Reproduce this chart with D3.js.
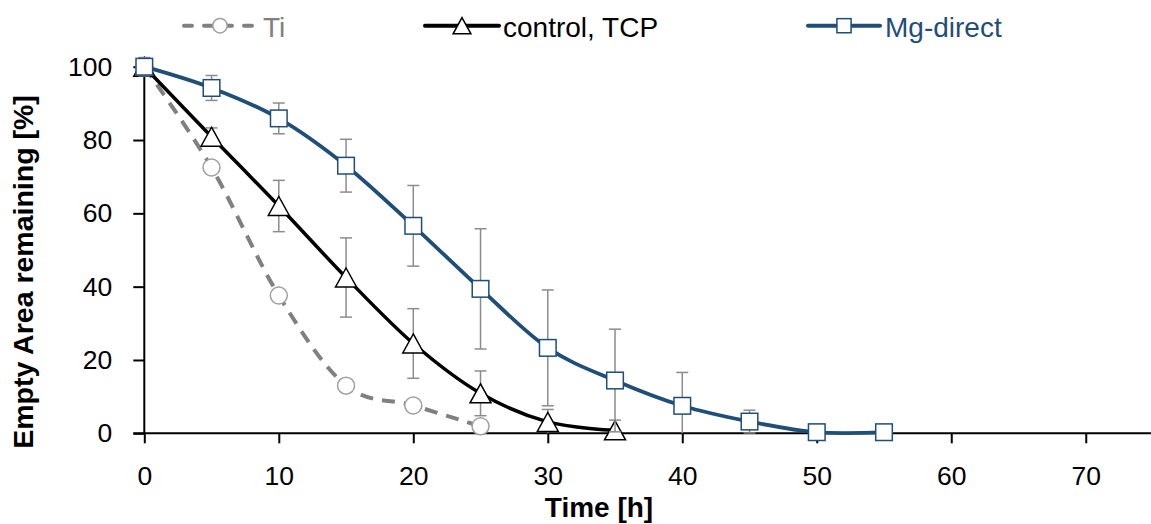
<!DOCTYPE html>
<html><head><meta charset="utf-8">
<script src="https://cdn.jsdelivr.net/npm/d3@7"></script>
<style>body{margin:0;background:#fff}svg{display:block}</style>
</head><body>
<svg id="c" width="1151" height="524"></svg>
<script>
// ---- data ----
const tiTime = [0, 5, 10, 15, 20, 25];
const tiValues = [100, 72.5, 37.6, 13, 7.6, 1.9];

const ctrlTime = [0, 5, 10, 15, 20, 25, 30, 35];
const ctrlValues = [100, 80.9, 62, 42.5, 24.5, 10.9, 3.1, 0.8];
const ctrlErr = [0, 2.4, 7, 10.8, 9.5, 6.1, 3.4, 2.8];

const mgTime = [0, 5, 10, 15, 20, 25, 30, 35, 40, 45, 50, 55];
const mgValues = [100, 94.2, 85.9, 73, 56.6, 39.4, 23.3, 14.4, 7.5, 3.2, 0.3, 0.3];
const mgErr = [2.5, 3.4, 4.2, 7.2, 11, 16.4, 15.8, 14, 9.1, 3.1, 0, 0];

const xTicks = [0, 10, 20, 30, 40, 50, 60, 70];
const yTicks = [0, 20, 40, 60, 80, 100];
const legendLabels = ["Ti", "control, TCP", "Mg-direct"];

// ---- layout ----
const svg = d3.select("#c");
const x = d3.scaleLinear().domain([0, 75]).range([144.3, 1153]);
const y = d3.scaleLinear().domain([0, 100]).range([433.3, 66.7]);

const BLUE = "#1f4e79", GRAY = "#808080", ERR = "#8c8c8c";
const FONT = "'Liberation Sans', Arial, sans-serif";

// axes
const yAxis = svg.append("g").attr("transform", `translate(${x(0)},0)`)
  .call(d3.axisLeft(y).tickValues(yTicks).tickSize(11).tickPadding(21));
const xAxis = svg.append("g").attr("transform", `translate(0,${y(0)})`)
  .call(d3.axisBottom(x).tickValues(xTicks).tickSize(10).tickPadding(23));
[yAxis, xAxis].forEach(g => {
  g.select(".domain").attr("stroke", "#000").attr("stroke-width", 2);
  g.selectAll(".tick line").attr("stroke", "#000").attr("stroke-width", 2);
  g.selectAll(".tick text").attr("fill", "#000").style("font-family", FONT).style("font-size", "26.5px");
});
xAxis.select(".domain").attr("d", `M${x(0)-11},0H1151`);
yAxis.select(".domain").attr("d", `M0,${y(0)}V${y(100)}`);

// titles
svg.append("text").attr("transform", `translate(33,272) rotate(-90)`)
  .attr("text-anchor", "middle").style("font-family", FONT).style("font-weight", "bold")
  .style("font-size", "28.5px").text("Empty Area remaining [%]");
svg.append("text").attr("x", 599).attr("y", 516.5)
  .attr("text-anchor", "middle").style("font-family", FONT).style("font-weight", "bold")
  .style("font-size", "28px").text("Time [h]");

const line = d3.line().x(d => x(d[0])).y(d => y(d[1])).curve(d3.curveCardinal.tension(0));

function series(times, vals, errs, color, width, dash, marker, markerStroke) {
  const pts = times.map((t, i) => [t, vals[i]]);
  svg.append("path").attr("d", line(pts)).attr("fill", "none")
    .attr("stroke", color).attr("stroke-width", width)
    .attr("stroke-dasharray", dash || null);
  if (errs) {
    const eg = svg.append("g").attr("stroke", ERR).attr("stroke-width", 1.5);
    times.forEach((t, i) => {
      if (!errs[i]) return;
      const xx = x(t), y1 = y(vals[i] + errs[i]), y0 = y(Math.max(0, vals[i] - errs[i]));
      eg.append("line").attr("x1", xx).attr("x2", xx).attr("y1", y1).attr("y2", y0);
      eg.append("line").attr("x1", xx - 6).attr("x2", xx + 6).attr("y1", y1).attr("y2", y1);
      if (vals[i] - errs[i] > 0)
        eg.append("line").attr("x1", xx - 6).attr("x2", xx + 6).attr("y1", y0).attr("y2", y0);
    });
  }
  pts.forEach(p => drawMarker(marker, x(p[0]), y(p[1]), markerStroke));
}

function drawMarker(kind, cx, cy, stroke, scale = 1) {
  if (kind === "circle") {
    svg.append("circle").attr("cx", cx).attr("cy", cy).attr("r", 8.5 * scale)
      .attr("fill", "#fff").attr("stroke", stroke).attr("stroke-width", 1.5);
  } else if (kind === "tri") {
    const w = 10.5 * scale, h = 9.5 * scale;
    svg.append("path").attr("d", `M${cx},${cy - h}L${cx + w},${cy + h}L${cx - w},${cy + h}Z`)
      .attr("fill", "#fff").attr("stroke", stroke).attr("stroke-width", 1.5);
  } else {
    const s = 8.3 * scale;
    svg.append("rect").attr("x", cx - s).attr("y", cy - s).attr("width", 2 * s).attr("height", 2 * s)
      .attr("fill", "#fff").attr("stroke", stroke).attr("stroke-width", 1.5);
  }
}

series(tiTime, tiValues, null, GRAY, 4, "13,9", "circle", "#a0a0a0");
series(ctrlTime, ctrlValues, ctrlErr, "#000", 3.5, null, "tri", "#000");
series(mgTime, mgValues, mgErr, BLUE, 3.8, null, "square", BLUE);

// legend
const legend = [
  {x0: 184, x1: 256, mx: 220, color: GRAY, dash: "8,12", marker: "circle", ms: "#a0a0a0", tx: 263, tc: GRAY},
  {x0: 425, x1: 499, mx: 462, color: "#000", dash: null, marker: "tri", ms: "#000", tx: 503, tc: "#000"},
  {x0: 808, x1: 880, mx: 844, color: BLUE, dash: null, marker: "square", ms: BLUE, tx: 885, tc: BLUE}
];
legend.forEach((l, i) => {
  svg.append("line").attr("x1", l.x0).attr("x2", l.x1).attr("y1", 25.7).attr("y2", 25.7)
    .attr("stroke", l.color).attr("stroke-width", 4).attr("stroke-linecap", "round")
    .attr("stroke-dasharray", l.dash);
  drawMarker(l.marker, l.mx, 25.7, l.ms, 0.85);
  svg.append("text").attr("x", l.tx).attr("y", 36.5).attr("fill", l.tc)
    .style("font-family", FONT).style("font-size", "28px").text(legendLabels[i]);
});
</script>
</body></html>
